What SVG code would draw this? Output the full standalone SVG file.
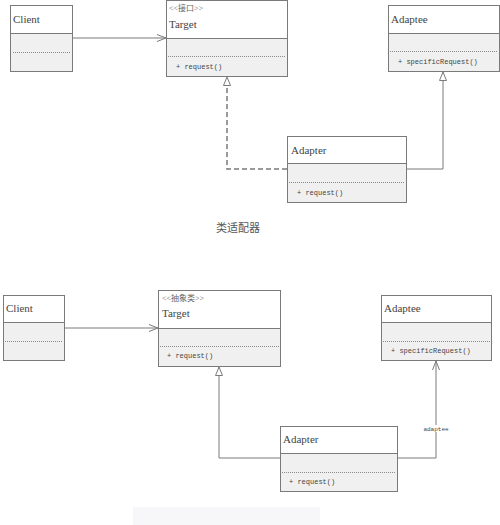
<svg xmlns="http://www.w3.org/2000/svg" width="500" height="525" viewBox="0 0 500 525">
<style>
.box{fill:#ffffff;stroke:#7a7a7a;stroke-width:1}
.low{fill:#f0f0f0;stroke:none}
.sep{stroke:#7a7a7a;stroke-width:1}
.dot{stroke:#8a8a8a;stroke-width:1;stroke-dasharray:1,1}
.name{font-family:"Liberation Serif","Noto Sans CJK SC",serif;font-size:11px;fill:#444}
.mem{font-family:"Liberation Mono",monospace;font-size:7px;fill:#444}
.st{font-family:"Liberation Serif","Noto Sans CJK SC",serif;font-size:8px;fill:#666}
.cap{font-family:"Liberation Serif","Noto Sans CJK SC",serif;font-size:11px;fill:#555}
.lbl{font-family:"Liberation Mono",monospace;font-size:6px;fill:#444}
.ln{fill:none;stroke:#7a7a7a;stroke-width:1}
.dash{fill:none;stroke:#7a7a7a;stroke-width:1.5;stroke-dasharray:5,3}
</style>
<defs>
<marker id="open" markerUnits="userSpaceOnUse" markerWidth="10" markerHeight="10" refX="9" refY="4" orient="auto"><path d="M0,0.5 L9,4 L0,7.5" fill="none" stroke="#7a7a7a" stroke-width="1"/></marker>
<marker id="tri" markerUnits="userSpaceOnUse" markerWidth="12" markerHeight="10" refX="9" refY="4" orient="auto"><path d="M0.5,0.5 L9,4 L0.5,7.5 Z" fill="#fff" stroke="#7a7a7a" stroke-width="1"/></marker>
</defs>
<rect width="500" height="525" fill="#fff"/>
<rect x="133" y="507" width="187" height="18" fill="#f7f7f9"/>

<g id="connectors">
<line class="ln" x1="72" y1="38" x2="166" y2="38" marker-end="url(#open)"/>
<path class="dash" d="M287,169 H227 V77" marker-end="url(#tri)"/>
<path class="ln" d="M406,169 H443 V72" marker-end="url(#tri)"/>
<line class="ln" x1="64" y1="328" x2="158" y2="328" marker-end="url(#open)"/>
<path class="ln" d="M280,458 H219 V367" marker-end="url(#tri)"/>
<path class="ln" d="M397,458 H436 V361" marker-end="url(#open)"/>
<rect x="422" y="425" width="28" height="7" fill="#fff"/>
<text class="lbl" x="436" y="431" text-anchor="middle">adaptee</text>
</g>

<g id="client1">
<rect class="box" x="10.5" y="5.5" width="62" height="66"/>
<rect class="low" x="11" y="34" width="61" height="37"/>
<line class="sep" x1="10.5" y1="33.5" x2="72.5" y2="33.5"/>
<line class="dot" x1="13" y1="52.5" x2="70" y2="52.5"/>
<text class="name" x="13" y="23">Client</text>
</g>
<g id="target1">
<rect class="box" x="166.5" y="0.5" width="121" height="76"/>
<rect class="low" x="167" y="39" width="120" height="37"/>
<line class="sep" x1="166.5" y1="38.5" x2="287.5" y2="38.5"/>
<line class="dot" x1="168" y1="56.5" x2="286" y2="56.5"/>
<text class="st" x="169" y="11">&lt;&lt;接口&gt;&gt;</text>
<text class="name" x="169" y="28">Target</text>
<text class="mem" x="176" y="68.5">+ request()</text>
</g>
<g id="adaptee1">
<rect class="box" x="388.5" y="5.5" width="111" height="66"/>
<rect class="low" x="389" y="34" width="110" height="37"/>
<line class="sep" x1="388.5" y1="33.5" x2="499.5" y2="33.5"/>
<line class="dot" x1="390" y1="51.5" x2="498" y2="51.5"/>
<text class="name" x="391" y="23">Adaptee</text>
<text class="mem" x="398" y="63.5">+ specificRequest()</text>
</g>
<g id="adapter1">
<rect class="box" x="287.5" y="136.5" width="119" height="66"/>
<rect class="low" x="288" y="164" width="118" height="38"/>
<line class="sep" x1="287.5" y1="163.5" x2="406.5" y2="163.5"/>
<line class="dot" x1="289" y1="182.5" x2="405" y2="182.5"/>
<text class="name" x="291" y="154">Adapter</text>
<text class="mem" x="297" y="194.5">+ request()</text>
</g>
<text class="cap" x="238" y="232" text-anchor="middle">类适配器</text>

<g id="client2">
<rect class="box" x="3.5" y="295.5" width="61" height="65"/>
<rect class="low" x="4" y="323" width="60" height="37"/>
<line class="sep" x1="3.5" y1="322.5" x2="64.5" y2="322.5"/>
<line class="dot" x1="5" y1="341.5" x2="63" y2="341.5"/>
<text class="name" x="6" y="312">Client</text>
</g>
<g id="target2">
<rect class="box" x="158.5" y="290.5" width="122" height="76"/>
<rect class="low" x="159" y="329" width="121" height="37"/>
<line class="sep" x1="158.5" y1="328.5" x2="280.5" y2="328.5"/>
<line class="dot" x1="160" y1="346.5" x2="279" y2="346.5"/>
<text class="st" x="162" y="301">&lt;&lt;抽象类&gt;&gt;</text>
<text class="name" x="162" y="317">Target</text>
<text class="mem" x="167" y="357.5">+ request()</text>
</g>
<g id="adaptee2">
<rect class="box" x="381.5" y="295.5" width="110" height="65"/>
<rect class="low" x="382" y="323" width="109" height="37"/>
<line class="sep" x1="381.5" y1="322.5" x2="491.5" y2="322.5"/>
<line class="dot" x1="383" y1="341.5" x2="490" y2="341.5"/>
<text class="name" x="384" y="312">Adaptee</text>
<text class="mem" x="391" y="352.5">+ specificRequest()</text>
</g>
<g id="adapter2">
<rect class="box" x="280.5" y="426.5" width="117" height="65"/>
<rect class="low" x="281" y="454" width="116" height="37"/>
<line class="sep" x1="280.5" y1="453.5" x2="397.5" y2="453.5"/>
<line class="dot" x1="282" y1="472.5" x2="396" y2="472.5"/>
<text class="name" x="283" y="443">Adapter</text>
<text class="mem" x="289" y="483.5">+ request()</text>
</g>
</svg>
